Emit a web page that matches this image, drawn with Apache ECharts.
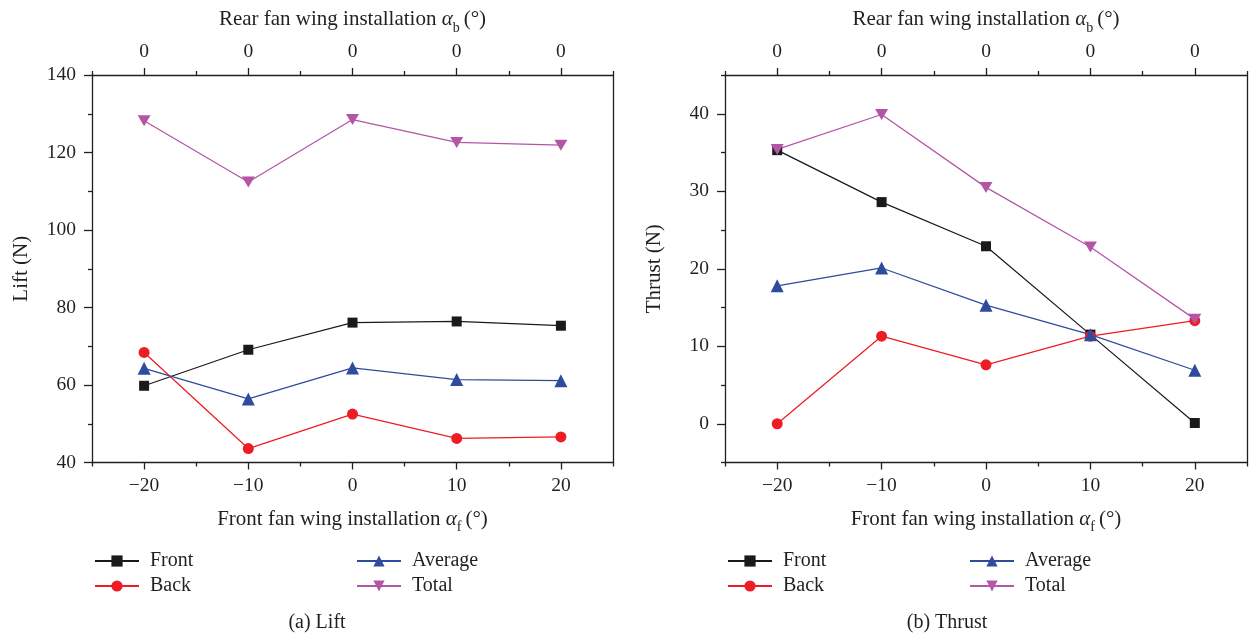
<!DOCTYPE html>
<html>
<head>
<meta charset="utf-8">
<title>Lift and thrust vs fan wing installation angle</title>
<script src="https://cdn.jsdelivr.net/npm/echarts@6/dist/echarts.min.js"></script>
<style>
  html, body { margin: 0; padding: 0; background: #ffffff; }
  #chart { width: 1250px; height: 634px; }
</style>
</head>
<body>
<div id="chart"></div>
<script>
// Front fan wing angle (bottom axis) and rear fan wing angle (top axis) per test point
const frontAngles = [-20, -10, 0, 10, 20];
const rearAngles = [0, 0, 0, 0, 0];
const xMinorTicks = [-25, -15, -5, 5, 15, 25];

// Y tick values
const liftTicks = [40, 60, 80, 100, 120, 140];
const liftMinorTicks = [50, 70, 90, 110, 130];
const thrustTicks = [0, 10, 20, 30, 40];
const thrustMinorTicks = [-5, 5, 15, 25, 35, 45];

// Lift (N)
const liftFront = [59.8, 69.1, 76.1, 76.4, 75.3];
const liftBack = [68.4, 43.6, 52.5, 46.2, 46.6];
const liftAverage = [64.3, 56.4, 64.4, 61.4, 61.1];
const liftTotal = [128.2, 112.4, 128.5, 122.6, 121.9];

// Thrust (N)
const thrustFront = [35.3, 28.6, 22.9, 11.5, 0.1];
const thrustBack = [0.0, 11.3, 7.6, 11.3, 13.3];
const thrustAverage = [17.8, 20.1, 15.3, 11.5, 6.9];
const thrustTotal = [35.4, 39.9, 30.5, 22.8, 13.5];

const FONT = '"Liberation Serif", "DejaVu Serif", serif';
const TEXT = '#231f20';
const AXIS = '#231f20';
const FS = 19.5;   // tick labels
const NFS = 21;    // axis names
const LFS = 20;    // legend and captions

const COLORS = { Front: '#1a1a1a', Back: '#ee1c25', Average: '#2e4b9e', Total: '#b455a6' };
const SYMBOLS = {
  Front: { symbol: 'rect', size: 10 },
  Back: { symbol: 'circle', size: 11 },
  Average: { symbol: 'triangle', size: 13 },
  Total: { symbol: 'path://M0,0 L10,0 L5,8.66 Z', size: [13, 11] }
};

const minus = v => String(v).replace('-', '\u2212');

const nameRich = {
  a: { fontFamily: FONT, fontSize: NFS, fontStyle: 'italic', color: TEXT },
  s: { fontFamily: FONT, fontSize: 14, color: TEXT, verticalAlign: 'bottom', padding: [0, 4, -5, 0] }
};

function majorX(gridIndex, position, opts) {
  return Object.assign({
    type: 'value', gridIndex, position, min: -25, max: 25,
    axisLine: { show: true, onZero: false, lineStyle: { color: AXIS, width: 1.3 } },
    axisTick: { show: true, length: 7, customValues: frontAngles, lineStyle: { color: AXIS, width: 1.3 } },
    splitLine: { show: false },
    nameLocation: 'middle',
    nameTextStyle: { fontFamily: FONT, fontSize: NFS, color: TEXT, rich: nameRich }
  }, opts);
}

function minorX(gridIndex, position) {
  return {
    type: 'value', gridIndex, position, min: -25, max: 25,
    axisLine: { show: false, onZero: false },
    axisTick: { show: true, length: 4, customValues: xMinorTicks, lineStyle: { color: AXIS, width: 1.3 } },
    axisLabel: { show: false },
    splitLine: { show: false }
  };
}

function majorY(gridIndex, min, max, ticks, name) {
  return {
    type: 'value', gridIndex, position: 'left', min, max,
    axisLine: { show: true, onZero: false, lineStyle: { color: AXIS, width: 1.3 } },
    axisTick: { show: true, length: 8, customValues: ticks, lineStyle: { color: AXIS, width: 1.3 } },
    axisLabel: { show: true, customValues: ticks, margin: 16, fontFamily: FONT, fontSize: FS, color: TEXT, formatter: minus },
    splitLine: { show: false },
    name, nameLocation: 'middle', nameGap: 60, nameRotate: 90,
    nameTextStyle: { fontFamily: FONT, fontSize: NFS, color: TEXT }
  };
}

function minorY(gridIndex, min, max, ticks) {
  return {
    type: 'value', gridIndex, position: 'left', min, max,
    axisLine: { show: false, onZero: false },
    axisTick: { show: true, length: 4, customValues: ticks, lineStyle: { color: AXIS, width: 1.3 } },
    axisLabel: { show: false },
    splitLine: { show: false }
  };
}

function frameY(gridIndex, min, max) {
  return {
    type: 'value', gridIndex, position: 'right', min, max,
    axisLine: { show: true, onZero: false, lineStyle: { color: AXIS, width: 1.3 } },
    axisTick: { show: false }, axisLabel: { show: false }, splitLine: { show: false }
  };
}

const bottomName = 'Front fan wing installation {a|\u03b1}{s|f}(\u00b0)';
const topName = 'Rear fan wing installation {a|\u03b1}{s|b}(\u00b0)';
const rearLabel = v => { const i = frontAngles.indexOf(v); return i >= 0 ? String(rearAngles[i]) : ''; };

const xAxis = [];
const yAxis = [];
[0, 1].forEach(g => {
  xAxis.push(majorX(g, 'bottom', {
    name: bottomName, nameGap: 46,
    axisLabel: { show: true, customValues: frontAngles, margin: 13, fontFamily: FONT, fontSize: FS, color: TEXT, formatter: minus }
  }));
  xAxis.push(minorX(g, 'bottom'));
  xAxis.push(majorX(g, 'top', {
    name: topName, nameGap: 45,
    axisLabel: { show: true, customValues: frontAngles, margin: 13, fontFamily: FONT, fontSize: FS, color: TEXT, formatter: rearLabel }
  }));
  xAxis.push(minorX(g, 'top'));
});
yAxis.push(majorY(0, 40, 140, liftTicks, 'Lift (N)'));
yAxis.push(minorY(0, 40, 140, liftMinorTicks));
yAxis.push(frameY(0, 40, 140));
yAxis.push(majorY(1, -5, 45, thrustTicks, 'Thrust (N)'));
yAxis.push(minorY(1, -5, 45, thrustMinorTicks));
yAxis.push(frameY(1, -5, 45));

function makeSeries(name, values, xAxisIndex, yAxisIndex) {
  return {
    type: 'line', name, xAxisIndex, yAxisIndex,
    data: frontAngles.map((x, i) => [x, values[i]]),
    symbol: SYMBOLS[name].symbol, symbolSize: SYMBOLS[name].size,
    showAllSymbol: true,
    lineStyle: { color: COLORS[name], width: 1.25 },
    itemStyle: { color: COLORS[name] },
    emphasis: { disabled: true },
    z: 3
  };
}

const series = [
  makeSeries('Front', liftFront, 0, 0),
  makeSeries('Back', liftBack, 0, 0),
  makeSeries('Average', liftAverage, 0, 0),
  makeSeries('Total', liftTotal, 0, 0),
  makeSeries('Front', thrustFront, 4, 3),
  makeSeries('Back', thrustBack, 4, 3),
  makeSeries('Average', thrustAverage, 4, 3),
  makeSeries('Total', thrustTotal, 4, 3)
];

function legendAt(left, names) {
  return {
    data: names, left, top: 546, orient: 'vertical', itemGap: 5,
    itemWidth: 44, itemHeight: 14, selectedMode: false,
    textStyle: { fontFamily: FONT, fontSize: LFS, color: TEXT, padding: [0, 0, 0, 6] }
  };
}

const option = {
  animation: false,
  backgroundColor: '#ffffff',
  grid: [
    { left: 92, right: 637, top: 75, bottom: 171.5, containLabel: false },
    { left: 725, right: 3, top: 75, bottom: 171.5, containLabel: false }
  ],
  title: [
    { text: '(a) Lift', left: 312, top: 608, textAlign: 'center',
      textStyle: { fontFamily: FONT, fontSize: LFS, fontWeight: 'normal', color: TEXT } },
    { text: '(b) Thrust', left: 942, top: 608, textAlign: 'center',
      textStyle: { fontFamily: FONT, fontSize: LFS, fontWeight: 'normal', color: TEXT } }
  ],
  legend: [
    legendAt(89, ['Front', 'Back']),
    legendAt(351, ['Average', 'Total']),
    legendAt(722, ['Front', 'Back']),
    legendAt(964, ['Average', 'Total'])
  ],
  xAxis, yAxis, series
};

const chart = echarts.init(document.getElementById('chart'), null, { renderer: 'canvas' });
chart.setOption(option);
</script>
</body>
</html>
